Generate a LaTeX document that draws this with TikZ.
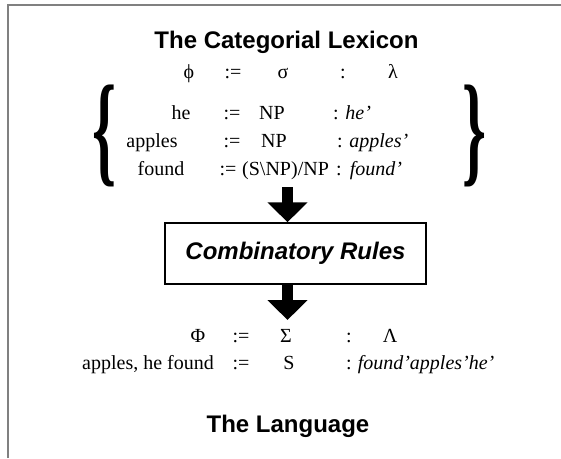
\documentclass[tikz,border=0pt]{standalone}
\usepackage{fontspec}
\setmainfont{Liberation Serif}
\setsansfont{Liberation Sans}
\usetikzlibrary{arrows.meta}

\begin{document}
\begin{tikzpicture}[x=1pt, y=-1pt,
  every node/.style={inner sep=0pt, font=\fontsize{20}{24}\selectfont},
  heading/.style={anchor=base, font=\fontsize{24}{28}\selectfont\sffamily\bfseries},
  entry/.style={anchor=base},
  lentry/.style={anchor=base west},
  bigbrace/.style={font=\fontsize{20}{24}\selectfont\bfseries},
  rulebox/.style={draw, line width=1.5pt, minimum width=261pt, minimum height=61pt,
    font=\fontsize{24}{28}\selectfont\sffamily\bfseries\itshape},
  fatarrow/.style={line width=11pt, -{Triangle[width=39pt, length=20pt]}}]

\useasboundingbox (0,0) rectangle (561,458);

% frame, only its top and left edges are seen
\draw[gray, line width=2pt] (8,458) |- (561,5);

% the lexicon
\node[heading] (lexhead) at (286.5,48) {The Categorial Lexicon};

\node[entry] (phi)    at (189,78) {ϕ};
\node[entry] (assign) at (233,78) {:=};
\node[entry] (sigma)  at (283,78) {σ};
\node[entry] (colon)  at (343,78) {:};
\node[entry] (lambda) at (393,78) {λ};

\node[entry]  (he)     at (181,119) {he};
\node[entry]  (he-is)  at (232,119) {:=};
\node[entry]  (he-cat) at (272,119) {NP};
\node[lentry] (he-sem) at (333,119) {: \textit{he’}};

\node[entry]  (apples)     at (152,147) {apples};
\node[entry]  (apples-is)  at (232,147) {:=};
\node[entry]  (apples-cat) at (274,147) {NP};
\node[lentry] (apples-sem) at (337,147) {: \textit{apples’}};

\node[entry]  (found)     at (161,175) {found};
\node[entry]  (found-is)  at (228,175) {:=};
\node[lentry] (found-cat) at (242,175) {(S\textbackslash NP)/NP};
\node[lentry] (found-sem) at (336,175) {:\hspace{8pt}\textit{found’}};

% braces round the entries
\node[bigbrace] (lbrace) at (104,136) {\resizebox*{24pt}{102pt}{\{}};
\node[bigbrace] (rbrace) at (474,136) {\resizebox*{24pt}{102pt}{\}}};

% the rules
\coordinate (lexout) at (287.5,187);
\node[rulebox] (rules) at (295.5,253.5) {Combinatory Rules};
\draw[fatarrow] (lexout) -- (lexout |- rules.north);

\coordinate (langin) at (287.5,320);
\draw[fatarrow] (rules.south -| langin) -- (langin);

% the language
\node[entry] (Phi)         at (198,342) {Φ};
\node[entry] (lang-assign) at (241,342) {:=};
\node[entry] (Sigma)       at (286,342) {Σ};
\node[entry] (lang-colon)  at (349,342) {:};
\node[entry] (Lambda)      at (390,342) {Λ};

\node[lentry] (sentence)     at (82,369)  {apples, he found};
\node[entry]  (sentence-is)  at (241,369) {:=};
\node[entry]  (sentence-cat) at (289,369) {S};
\node[lentry] (sentence-sem) at (346,369) {:\hspace{6pt}\textit{found’apples’he’}};

\node[heading] (langhead) at (288,432) {The Language};

\end{tikzpicture}
\end{document}
